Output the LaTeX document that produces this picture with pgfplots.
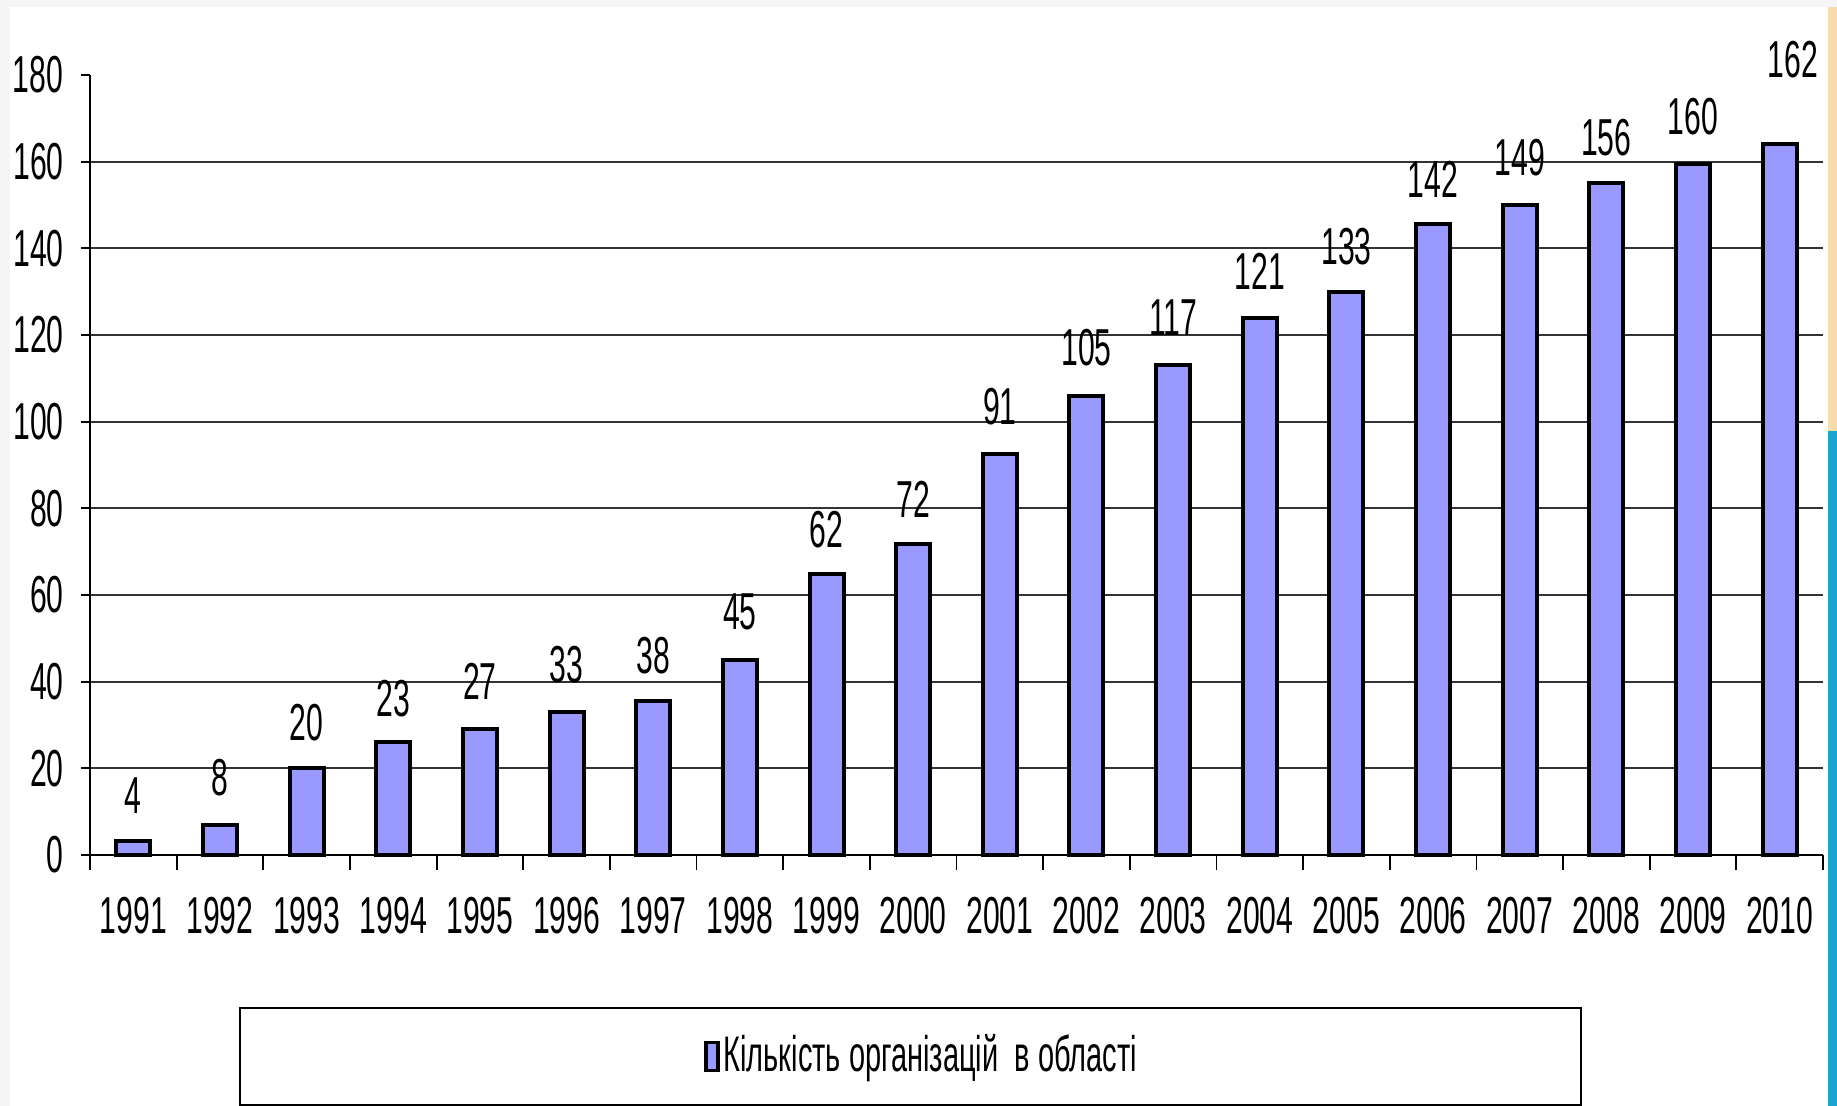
\documentclass[border=0pt]{standalone}
\usepackage{fontspec}
\setmainfont{Liberation Sans}[FakeStretch=0.58]
\usepackage{pgfplots}
\pgfplotsset{compat=1.18}
\definecolor{barfill}{HTML}{9999FF}
\definecolor{gridc}{HTML}{333333}
\definecolor{slideblue}{HTML}{1AA5D0}
\definecolor{slidebeige}{HTML}{F5DDB0}
\begin{document}
\begin{tikzpicture}
\fontsize{26bp}{30bp}\selectfont
\path[use as bounding box] (-45bp,-125.5bp) rectangle (873.5bp,427.5bp);
% slide frame
\fill[gray!8] (-45bp,-125.5bp) rectangle (-40bp,427.5bp);
\fill[gray!8] (-45bp,424bp) rectangle (873.5bp,427.5bp);
\fill[slideblue] (869bp,-125.5bp) rectangle (873.5bp,212bp);
\fill[slidebeige] (869bp,212bp) rectangle (873.5bp,424bp);
\begin{axis}[
    width=866.5bp, height=390bp, scale only axis,
    xmin=-0.5, xmax=19.5, ymin=0, ymax=180,
    clip=false,
    axis x line*=bottom, axis y line*=left,
    axis line style={-, line width=0.9bp, black},
    xtick={0,...,19},
    xticklabels={1991,1992,1993,1994,1995,1996,1997,1998,1999,2000,2001,2002,2003,2004,2005,2006,2007,2008,2009,2010},
    minor xtick={-0.5,0.5,...,19.5},
    ytick={0,20,...,160},
    extra y ticks={180},
    extra y tick style={grid=none, /pgfplots/major tick length=4.5bp},
    ymajorgrids,
    grid style={line width=0.9bp, gridc},
    tick align=outside,
    tick style={black, line width=0.9bp},
    xtick style={/pgfplots/major tick length=0pt},
    minor tick length=7.5bp,
    ytick style={/pgfplots/major tick length=4.5bp},
    /pgf/number format/assume math mode=true,
    ticklabel style={font=\fontsize{26bp}{30bp}\selectfont},
    xticklabel style={yshift=-8bp},
    legend style={at={(0.086,-0.195)}, anchor=north west, draw=black,
        line width=0.8bp, inner xsep=220bp, inner ysep=11bp,
        font=\fontsize{25bp}{29bp}\selectfont},
    legend image code/.code={%
        \path[draw=none, fill=none] (-13bp,0bp) -- (0bp,0bp);
        \draw[fill=barfill, draw=black, line width=1.8bp] (0bp,-7bp) rectangle (6bp,7bp);},
]
\addplot[ybar, bar width=17bp, fill=barfill, draw=black, line width=2bp]
    coordinates {
    (0,3.2) (1,7) (2,20) (3,26) (4,29) (5,33) (6,35.5) (7,45) (8,64.8) (9,71.8)
    (10,92.5) (11,106) (12,113) (13,124) (14,130) (15,145.7) (16,150) (17,155) (18,159.5) (19,164)
    };
\addlegendentry{Кількість організацій\ \ в області}
\addplot[forget plot, only marks, mark=none, nodes near coords, point meta=explicit symbolic,
    every node near coord/.style={anchor=center, font=\fontsize{26bp}{30bp}\selectfont}]
    coordinates {
    (0,13.8) [4] (1,17.8) [8] (2,30.6) [20] (3,36) [23] (4,40) [27]
    (5,44) [33] (6,46) [38] (7,56) [45] (8,75) [62] (9,82) [72]
    (10,103.5) [91] (11,117) [105] (12,124) [117] (13,134.6) [121] (14,140.5) [133]
    (15,156) [142] (16,161) [149] (17,165.6) [156] (18,170.3) [160] (19.15,183.5) [162]
    };
\end{axis}
\end{tikzpicture}
\end{document}
